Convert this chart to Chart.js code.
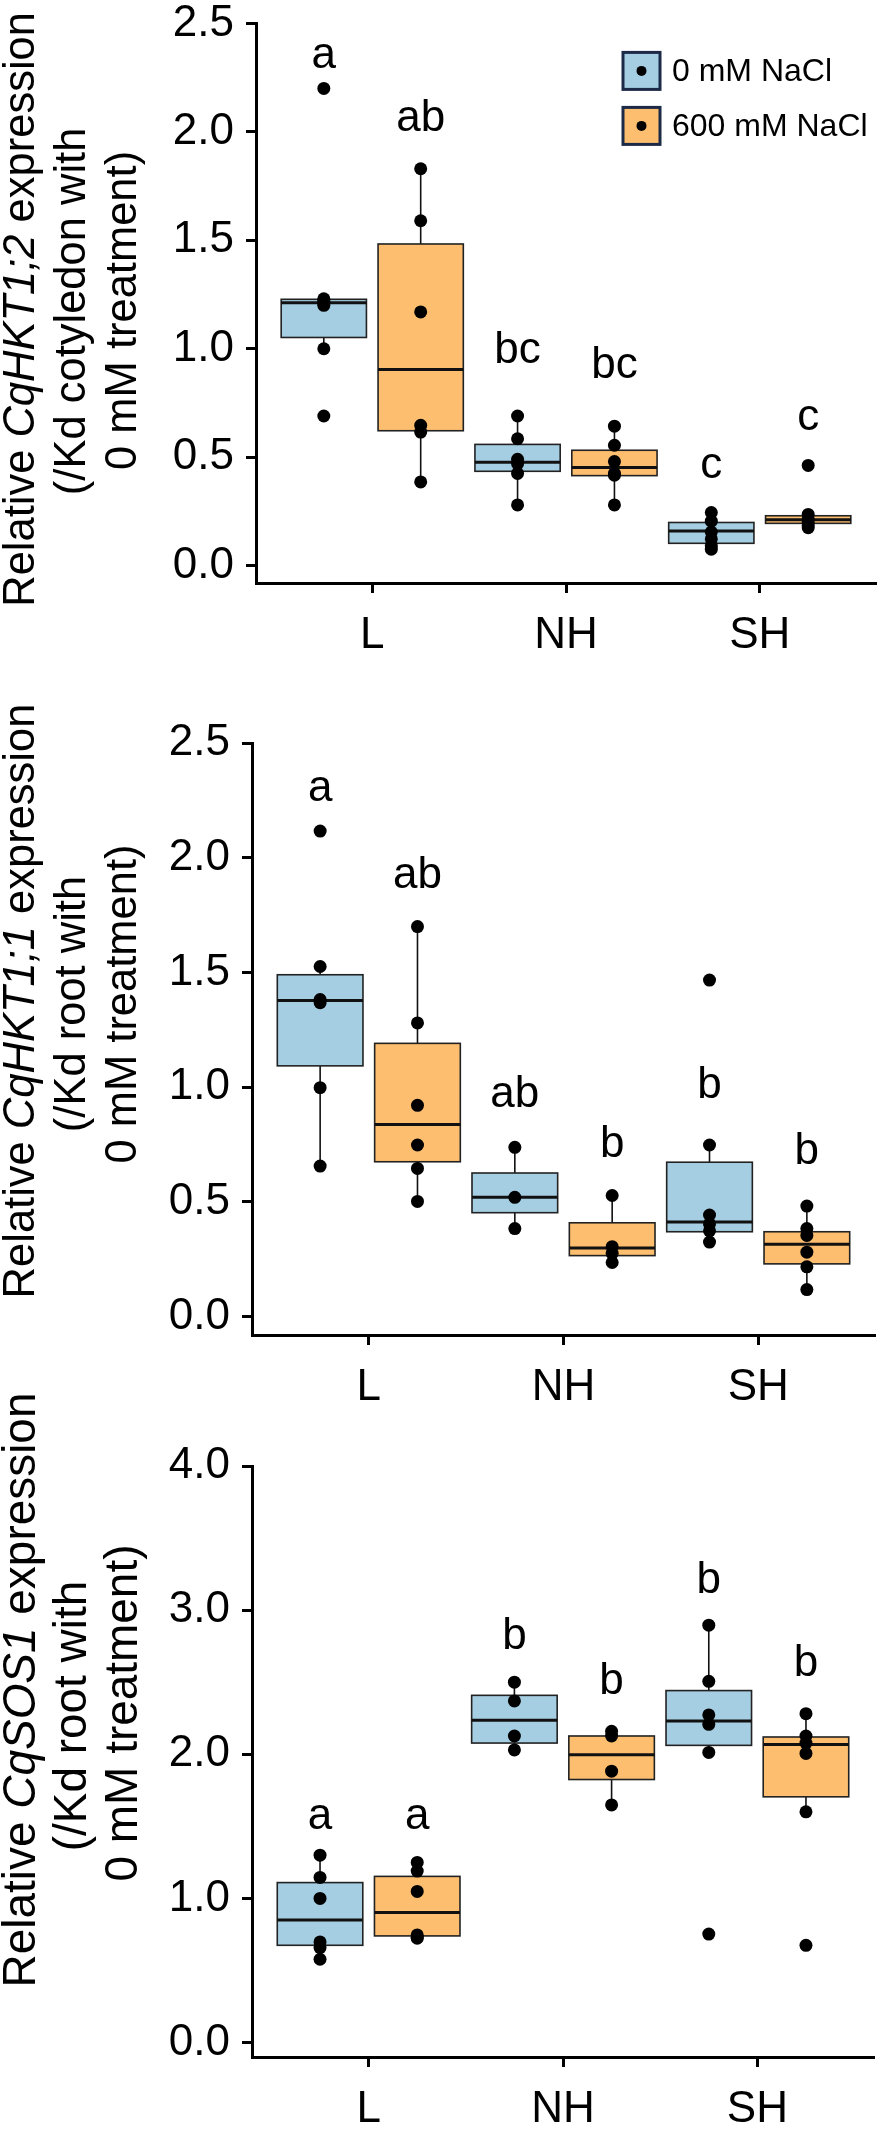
<!DOCTYPE html>
<html>
<head>
<meta charset="utf-8">
<script src="https://cdn.jsdelivr.net/npm/chart.js@4.4.1/dist/chart.umd.min.js"></script>
<style>
  body { margin: 0; background: #fff; width: 886px; height: 2133px; position: relative; overflow: hidden; }
  canvas { position: absolute; left: 0; }
</style>
</head>
<body>
<canvas id="c1" width="886" height="678" style="top:-15px"></canvas>
<canvas id="c2" width="886" height="772" style="top:643px"></canvas>
<canvas id="c3" width="886" height="771" style="top:1366px"></canvas>
<script>
const categories = ['L', 'NH', 'SH'];
const seriesNames = ['0 mM NaCl', '600 mM NaCl'];
const seriesFill = ['#a6cee3', '#fdbf6f'];

// CqHKT1;2, cotyledon - individual values per category
const hkt12Ctrl = [[2.20, 1.23, 1.22, 1.21, 1.20, 1.00, 0.69], [0.69, 0.585, 0.49, 0.47, 0.425, 0.28], [0.245, 0.205, 0.155, 0.123, 0.092, 0.076]];
const hkt12Salt = [[1.83, 1.59, 1.17, 0.647, 0.616, 0.386], [0.643, 0.555, 0.48, 0.425, 0.417, 0.28], [0.462, 0.236, 0.216, 0.20, 0.185, 0.175]];
// box stats: [lower whisker, q1, median, q3, upper whisker]
const hkt12CtrlBox = [[1.00, 1.052, 1.212, 1.228, 1.23], [0.28, 0.435, 0.477, 0.559, 0.69], [0.076, 0.103, 0.160, 0.199, 0.245]];
const hkt12SaltBox = [[0.386, 0.622, 0.904, 1.483, 1.834], [0.281, 0.415, 0.452, 0.532, 0.643], [0.18, 0.195, 0.212, 0.230, 0.24]];
const hkt12Letters = [['a', 'bc', 'c'], ['ab', 'bc', 'c']];
const hkt12LetterY = [[2.35, 0.99, 0.46], [2.06, 0.92, 0.68]];

// CqHKT1;1, root
const hkt11Ctrl = [[2.116, 1.526, 1.382, 1.368, 0.998, 0.656], [0.738, 0.52, 0.384], [1.467, 0.748, 0.443, 0.404, 0.374, 0.325]];
const hkt11Salt = [[1.70, 1.28, 0.921, 0.748, 0.646, 0.502], [0.528, 0.305, 0.276, 0.236], [0.482, 0.384, 0.354, 0.281, 0.217, 0.118]];
const hkt11CtrlBox = [[0.656, 1.093, 1.378, 1.490, 1.526], [0.384, 0.453, 0.520, 0.626, 0.738], [0.325, 0.370, 0.413, 0.673, 0.748]];
const hkt11SaltBox = [[0.502, 0.675, 0.837, 1.191, 1.699], [0.236, 0.266, 0.299, 0.409, 0.528], [0.118, 0.230, 0.315, 0.370, 0.482]];
const hkt11Letters = [['a', 'ab', 'b'], ['ab', 'b', 'b']];
const hkt11LetterY = [[2.30, 0.965, 1.004], [1.923, 0.748, 0.718]];

// CqSOS1, root
const sos1Ctrl = [[1.30, 1.146, 1.0, 0.698, 0.659, 0.578], [2.5, 2.37, 2.127, 2.03], [2.896, 2.506, 2.273, 2.208, 2.013, 0.753]];
const sos1Salt = [[1.25, 1.19, 1.049, 0.747, 0.73, 0.724], [2.159, 2.127, 1.883, 1.649], [2.282, 2.127, 2.078, 2.006, 1.601, 0.675]];
const sos1CtrlBox = [[0.578, 0.675, 0.851, 1.110, 1.299], [2.03, 2.078, 2.237, 2.409, 2.5], [2.013, 2.062, 2.231, 2.442, 2.896]];
const sos1SaltBox = [[0.724, 0.740, 0.903, 1.153, 1.25], [1.649, 1.825, 1.997, 2.127, 2.159], [1.601, 1.705, 2.068, 2.120, 2.282]];
const sos1Letters = [['a', 'b', 'b'], ['a', 'b', 'b']];
const sos1LetterY = [[1.565, 2.815, 3.205], [1.565, 2.50, 2.63]];

const yTicksHkt = [0, 0.5, 1.0, 1.5, 2.0, 2.5];
const yTicksSos = [0, 1.0, 2.0, 3.0, 4.0];

const FONT = "'Liberation Sans', Arial, sans-serif";
const dodge = [-0.25, 0.25];
const halfBox = 0.22;

function titleFont(italic, size) {
    return (italic ? 'italic ' : '') + size + 'px ' + FONT;
}

function textLength(ctx, parts, size) {
    let total = 0;
    parts.forEach(pt => {
        ctx.font = titleFont(pt[1], size);
        total += ctx.measureText(pt[0]).width;
    });
    return total;
}

function panelPlugin(p) {
    return {
        id: 'panel' + p.id,
        beforeDatasetsDraw(chart) {
            const ctx = chart.ctx;
            const xs = chart.scales.x, ys = chart.scales.y;
            p.boxes.forEach((boxes, s) => {
                boxes.forEach((b, i) => {
                    const xc = xs.getPixelForValue(i + dodge[s]);
                    const x0 = xs.getPixelForValue(i + dodge[s] - halfBox);
                    const x1 = xs.getPixelForValue(i + dodge[s] + halfBox);
                    const [lo, q1, med, q3, hi] = b.map(v => ys.getPixelForValue(v));
                    ctx.save();
                    ctx.strokeStyle = '#111';
                    ctx.lineWidth = 1.6;
                    ctx.beginPath();
                    ctx.moveTo(xc, q3); ctx.lineTo(xc, hi);
                    ctx.moveTo(xc, q1); ctx.lineTo(xc, lo);
                    ctx.stroke();
                    ctx.fillStyle = seriesFill[s];
                    ctx.fillRect(x0, q3, x1 - x0, q1 - q3);
                    ctx.strokeStyle = '#222';
                    ctx.strokeRect(x0, q3, x1 - x0, q1 - q3);
                    ctx.strokeStyle = '#111';
                    ctx.lineWidth = 3;
                    ctx.beginPath();
                    ctx.moveTo(x0, med); ctx.lineTo(x1, med);
                    ctx.stroke();
                    ctx.restore();
                });
            });
        },
        afterDatasetsDraw(chart) {
            const ctx = chart.ctx;
            const xs = chart.scales.x, ys = chart.scales.y;
            const area = chart.chartArea;
            ctx.save();
            ctx.fillStyle = '#000';
            ctx.font = '44px ' + FONT;
            ctx.textAlign = 'center';
            ctx.textBaseline = 'middle';
            p.letters.forEach((row, s) => {
                row.forEach((txt, i) => {
                    ctx.fillText(txt, xs.getPixelForValue(i + dodge[s]), ys.getPixelForValue(p.letterY[s][i]));
                });
            });

            // y axis title: three rotated lines, first line sized to span the axis
            const lineX = [22, 73, 124];
            const size = 42 * 595 / textLength(ctx, p.title[0], 42);
            ctx.textAlign = 'left';
            p.title.forEach((parts, k) => {
                ctx.save();
                ctx.translate(lineX[k], area.top + p.titleOffset[k]);
                ctx.rotate(-Math.PI / 2);
                let x = -textLength(ctx, parts, size) / 2;
                parts.forEach(pt => {
                    ctx.font = titleFont(pt[1], size);
                    ctx.fillText(pt[0], x, 0);
                    x += ctx.measureText(pt[0]).width;
                });
                ctx.restore();
            });

            if (p.legend) {
                const kx = area.left + 367, ky = area.top + 29, ks = 37;
                seriesNames.forEach((name, s) => {
                    const y = ky + s * 55;
                    ctx.fillStyle = seriesFill[s];
                    ctx.fillRect(kx, y, ks, ks);
                    ctx.strokeStyle = '#1c2a48';
                    ctx.lineWidth = 3;
                    ctx.strokeRect(kx, y, ks, ks);
                    ctx.fillStyle = '#000';
                    ctx.beginPath();
                    ctx.arc(kx + ks / 2, y + ks / 2, 5, 0, Math.PI * 2);
                    ctx.fill();
                    ctx.font = '32px ' + FONT;
                    ctx.textAlign = 'left';
                    ctx.textBaseline = 'middle';
                    ctx.fillText(name, kx + 49, y + ks / 2 + 1);
                });
            }
            ctx.restore();
        }
    };
}

function makePanel(p) {
    const datasets = p.points.map((pts, s) => ({
        label: seriesNames[s],
        data: pts.flatMap((vals, i) => vals.map(v => ({ x: i + dodge[s], y: v }))),
        backgroundColor: '#000',
        borderWidth: 0,
        pointRadius: 6.5,
        pointHoverRadius: 6.5
    }));

    new Chart(document.getElementById(p.canvas).getContext('2d'), {
        type: 'scatter',
        data: { datasets: datasets },
        options: {
            responsive: false,
            animation: false,
            layout: { padding: { top: p.top, right: p.right, bottom: 0, left: 0 } },
            plugins: { legend: { display: false }, tooltip: { enabled: false } },
            scales: {
                x: {
                    type: 'linear',
                    min: -0.6,
                    max: 2.6,
                    afterBuildTicks: scale => { scale.ticks = categories.map((c, i) => ({ value: i })); },
                    afterFit: scale => { scale.height = 80; },
                    ticks: {
                        callback: v => categories[v],
                        color: '#000',
                        font: { family: FONT, size: 44 },
                        padding: 16,
                        maxRotation: 0
                    },
                    grid: { drawOnChartArea: false, drawTicks: true, tickLength: 10, tickColor: '#000', tickWidth: 3 },
                    border: { display: true, color: '#000', width: 3 }
                },
                y: {
                    min: p.yMin,
                    max: p.yMax,
                    afterBuildTicks: scale => { scale.ticks = p.yTicks.map(v => ({ value: v })); },
                    afterFit: scale => { scale.width = p.left; },
                    ticks: {
                        callback: v => v.toFixed(1),
                        color: '#000',
                        font: { family: FONT, size: 44 },
                        padding: 12
                    },
                    grid: { drawOnChartArea: false, drawTicks: true, tickLength: 10, tickColor: '#000', tickWidth: 3 },
                    border: { display: true, color: '#000', width: 3 }
                }
            }
        },
        plugins: [panelPlugin(p)]
    });
}

makePanel({
    id: 1, canvas: 'c1', top: 30, left: 256, right: 10, yMin: -0.08, yMax: 2.5, yTicks: yTicksHkt,
    points: [hkt12Ctrl, hkt12Salt], boxes: [hkt12CtrlBox, hkt12SaltBox],
    letters: hkt12Letters, letterY: hkt12LetterY, legend: true, titleOffset: [286, 288, 287],
    title: [[['Relative ', false], ['CqHKT1;2', true], [' expression', false]], [['(/Kd cotyledon with', false]], [['0 mM treatment)', false]]]
});
makePanel({
    id: 2, canvas: 'c2', top: 100, left: 252, right: 11, yMin: -0.08, yMax: 2.5, yTicks: yTicksHkt,
    points: [hkt11Ctrl, hkt11Salt], boxes: [hkt11CtrlBox, hkt11SaltBox],
    letters: hkt11Letters, letterY: hkt11LetterY, legend: false, titleOffset: [258, 261, 261],
    title: [[['Relative ', false], ['CqHKT1;1', true], [' expression', false]], [['(/Kd root with', false]], [['0 mM treatment)', false]]]
});
makePanel({
    id: 3, canvas: 'c3', top: 100, left: 252, right: 12, yMin: -0.1, yMax: 4.0, yTicks: yTicksSos,
    points: [sos1Ctrl, sos1Salt], boxes: [sos1CtrlBox, sos1SaltBox],
    letters: sos1Letters, letterY: sos1LetterY, legend: false, titleOffset: [224, 250, 247],
    title: [[['Relative ', false], ['CqSOS1', true], [' expression', false]], [['(/Kd root with', false]], [['0 mM treatment)', false]]]
});
</script>
</body>
</html>
